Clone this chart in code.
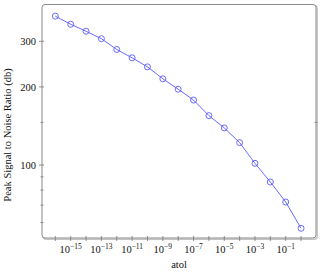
<!DOCTYPE html>
<html>
  <head>
    <meta charset="UTF-8" />
    <title>PSNR vs atol</title>
    <script src="https://d3js.org/d3.v7.min.js"></script>
    <style>
      body {
        margin: 0;
        background-color: #fff;
      }
      svg text {
        font-family: "Liberation Serif", "DejaVu Serif", serif;
        fill: #111;
      }
    </style>
  </head>
  <body>
    <div id="chart"></div>

    <script>
      // atol exponents (10^e) and PSNR values
      const atolExp = [-16, -15, -14, -13, -12, -11, -10, -9, -8, -7, -6, -5, -4, -3, -2, -1, 0];
      const psnr = [375, 349, 328, 307, 279, 259, 239, 215, 196, 178, 155, 139, 122, 101.5, 86, 72, 57];

      const yTicks = [100, 200, 300];
      const yMinorTicks = [60, 70, 80, 90, 146];
      const xTickExp = d3.range(-16, 1);
      const xLabelExp = [-15, -13, -11, -9, -7, -5, -3, -1];

      const width = 320;
      const height = 274;
      const mLeft = 42, mRight = 316, mTop = 4.5, mBottom = 238;

      const svg = d3
        .select("#chart")
        .append("svg")
        .attr("width", width)
        .attr("height", height);

      const x = d3
        .scaleLog()
        .domain([Math.pow(10, -16.868), Math.pow(10, 0.973)])
        .range([mLeft, mRight]);

      const y = d3
        .scaleLog()
        .domain([52.3, 415.9])
        .range([mBottom, mTop]);

      // frame with a soft shadow and rounded corners
      svg
        .append("rect")
        .attr("x", mLeft + 1.2)
        .attr("y", mTop + 1.2)
        .attr("width", mRight - mLeft)
        .attr("height", mBottom - mTop)
        .attr("rx", 3)
        .attr("fill", "none")
        .attr("stroke", "#c4c4c4")
        .attr("stroke-width", 1.4);

      svg
        .append("rect")
        .attr("x", mLeft)
        .attr("y", mTop)
        .attr("width", mRight - mLeft)
        .attr("height", mBottom - mTop)
        .attr("rx", 3)
        .attr("fill", "#fff")
        .attr("stroke", "#8a8a8a")
        .attr("stroke-width", 1);

      // x ticks
      svg
        .append("g")
        .selectAll("line")
        .data(xTickExp)
        .enter()
        .append("line")
        .attr("x1", (d) => x(Math.pow(10, d)))
        .attr("x2", (d) => x(Math.pow(10, d)))
        .attr("y1", mBottom - 2)
        .attr("y2", mBottom + 3)
        .attr("stroke", "#777")
        .attr("stroke-width", 0.8);

      const xLabels = svg
        .append("g")
        .selectAll("text")
        .data(xLabelExp)
        .enter()
        .append("text")
        .attr("x", (d) => x(Math.pow(10, d)))
        .attr("y", 253)
        .attr("text-anchor", "middle")
        .style("font-size", "10.5px");
      xLabels.append("tspan").text("10");
      xLabels
        .append("tspan")
        .attr("dy", -4.5)
        .style("font-size", "7.5px")
        .text((d) => "\u2212" + Math.abs(d));

      // y ticks
      svg
        .append("g")
        .selectAll("line")
        .data(yTicks)
        .enter()
        .append("line")
        .attr("x1", mLeft - 3)
        .attr("x2", mLeft + 2)
        .attr("y1", (d) => y(d))
        .attr("y2", (d) => y(d))
        .attr("stroke", "#777")
        .attr("stroke-width", 0.8);

      svg
        .append("g")
        .selectAll("line")
        .data(yMinorTicks)
        .enter()
        .append("line")
        .attr("x1", mLeft - 1.5)
        .attr("x2", mLeft + 1.5)
        .attr("y1", (d) => y(d))
        .attr("y2", (d) => y(d))
        .attr("stroke", "#777")
        .attr("stroke-width", 0.8);

      svg
        .append("line")
        .attr("x1", mRight - 1.5)
        .attr("x2", mRight + 1.5)
        .attr("y1", y(146))
        .attr("y2", y(146))
        .attr("stroke", "#777")
        .attr("stroke-width", 0.8);

      svg
        .append("g")
        .selectAll("text")
        .data(yTicks)
        .enter()
        .append("text")
        .attr("x", 36)
        .attr("y", (d) => y(d))
        .attr("dy", "0.35em")
        .attr("text-anchor", "end")
        .style("font-size", "10.5px")
        .text((d) => d);

      // axis titles
      svg
        .append("text")
        .attr("x", (mLeft + mRight) / 2)
        .attr("y", 268)
        .attr("text-anchor", "middle")
        .style("font-size", "10.5px")
        .text("atol");

      svg
        .append("text")
        .attr("transform", "translate(11,135) rotate(-90)")
        .attr("text-anchor", "middle")
        .style("font-size", "10.5px")
        .text("Peak Signal to Noise Ratio (db)");

      // data line and markers
      const pts = atolExp.map((e, i) => ({ a: Math.pow(10, e), v: psnr[i] }));

      const line = d3
        .line()
        .x((d) => x(d.a))
        .y((d) => y(d.v));

      svg
        .append("path")
        .datum(pts)
        .attr("d", line)
        .attr("fill", "none")
        .attr("stroke", "#5a5aff")
        .attr("stroke-width", 0.9);

      svg
        .append("g")
        .selectAll("circle")
        .data(pts)
        .enter()
        .append("circle")
        .attr("cx", (d) => x(d.a))
        .attr("cy", (d) => y(d.v))
        .attr("r", 3)
        .attr("fill", "none")
        .attr("stroke", "#5a5aff")
        .attr("stroke-width", 0.9);
    </script>
  </body>
</html>
